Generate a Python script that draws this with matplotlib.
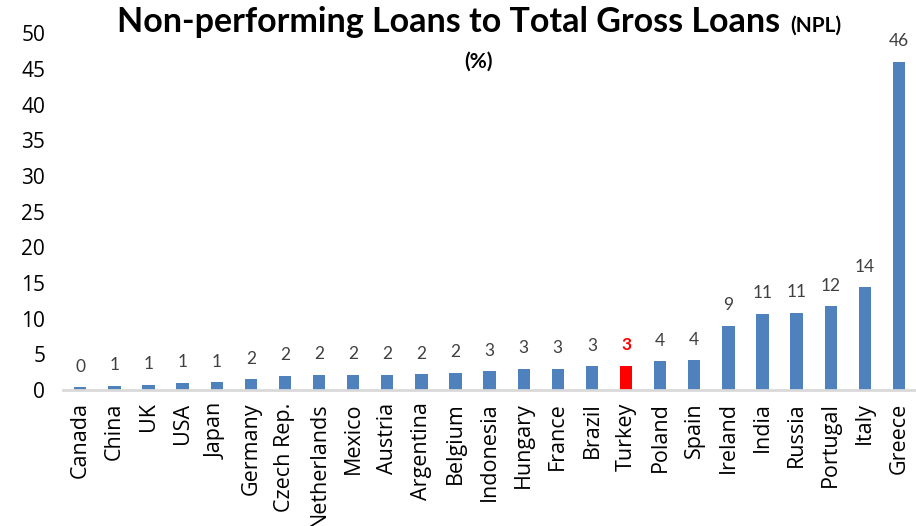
import matplotlib
matplotlib.use('Agg')
import matplotlib.pyplot as plt

countries = ['Canada', 'China', 'UK', 'USA', 'Japan', 'Germany', 'Czech Rep.',
             'Netherlands', 'Mexico', 'Austria', 'Argentina', 'Belgium',
             'Indonesia', 'Hungary', 'France', 'Brazil', 'Turkey', 'Poland',
             'Spain', 'Ireland', 'India', 'Russia', 'Portugal', 'Italy', 'Greece']
npl = [0.4, 0.6, 0.7, 1.0, 1.1, 1.5, 2.0, 2.1, 2.1, 2.1, 2.2, 2.4,
       2.6, 3.0, 3.0, 3.3, 3.4, 4.0, 4.2, 9.0, 10.7, 10.8, 11.7, 14.4, 46.0]
highlight = 'Turkey'

# axis text in Open Sans, title and value labels in Lato (closest to Calibri)
plt.rcParams['font.family'] = ['Open Sans', 'DejaVu Sans']
lato = ['Lato', 'DejaVu Sans']

fig = plt.figure(figsize=(9.16, 5.26), dpi=100)
ax = fig.add_axes([0.069, 0.2586, 0.931, 0.6784])

colors = ['#FF0000' if c == highlight else '#4F81BD' for c in countries]
x = range(len(countries))
bars = ax.bar(x, npl, width=0.36, color=colors)

for i, (b, v) in enumerate(zip(bars, npl)):
    hl = countries[i] == highlight
    ax.annotate('%.0f' % v, (b.get_x() + b.get_width() / 2, v),
                xytext=(0, 9), textcoords='offset points', ha='center', va='bottom',
                fontsize=12.5, family=lato, color='#FF0000' if hl else '#404040',
                fontweight='bold' if hl else 'normal')

ax.set_xlim(-0.5, len(countries) - 0.5)
ax.set_ylim(0, 50)
ax.set_yticks(range(0, 51, 5))
ax.set_xticks(list(x))
ax.set_xticklabels(countries, rotation=90, fontsize=15.5)
ax.tick_params(axis='y', labelsize=15, length=0, pad=13)
ax.tick_params(axis='x', length=0, pad=9)
for s in ['top', 'right', 'left']:
    ax.spines[s].set_visible(False)
ax.spines['bottom'].set_color('#D9D9D9')
ax.spines['bottom'].set_linewidth(2)

fig.text(0.8515, 0.939, 'Non-performing Loans to Total Gross Loans', ha='right', va='baseline',
         fontsize=24.5, fontweight='bold', family=lato, color='black')
fig.text(0.8624, 0.939, '(NPL)', ha='left', va='baseline', fontsize=15, fontweight='bold',
         family=lato)
fig.text(0.522, 0.882, '(%)', ha='center', va='center', fontsize=15, fontweight='bold',
         family=lato)

fig.savefig('out.png', dpi=100)
